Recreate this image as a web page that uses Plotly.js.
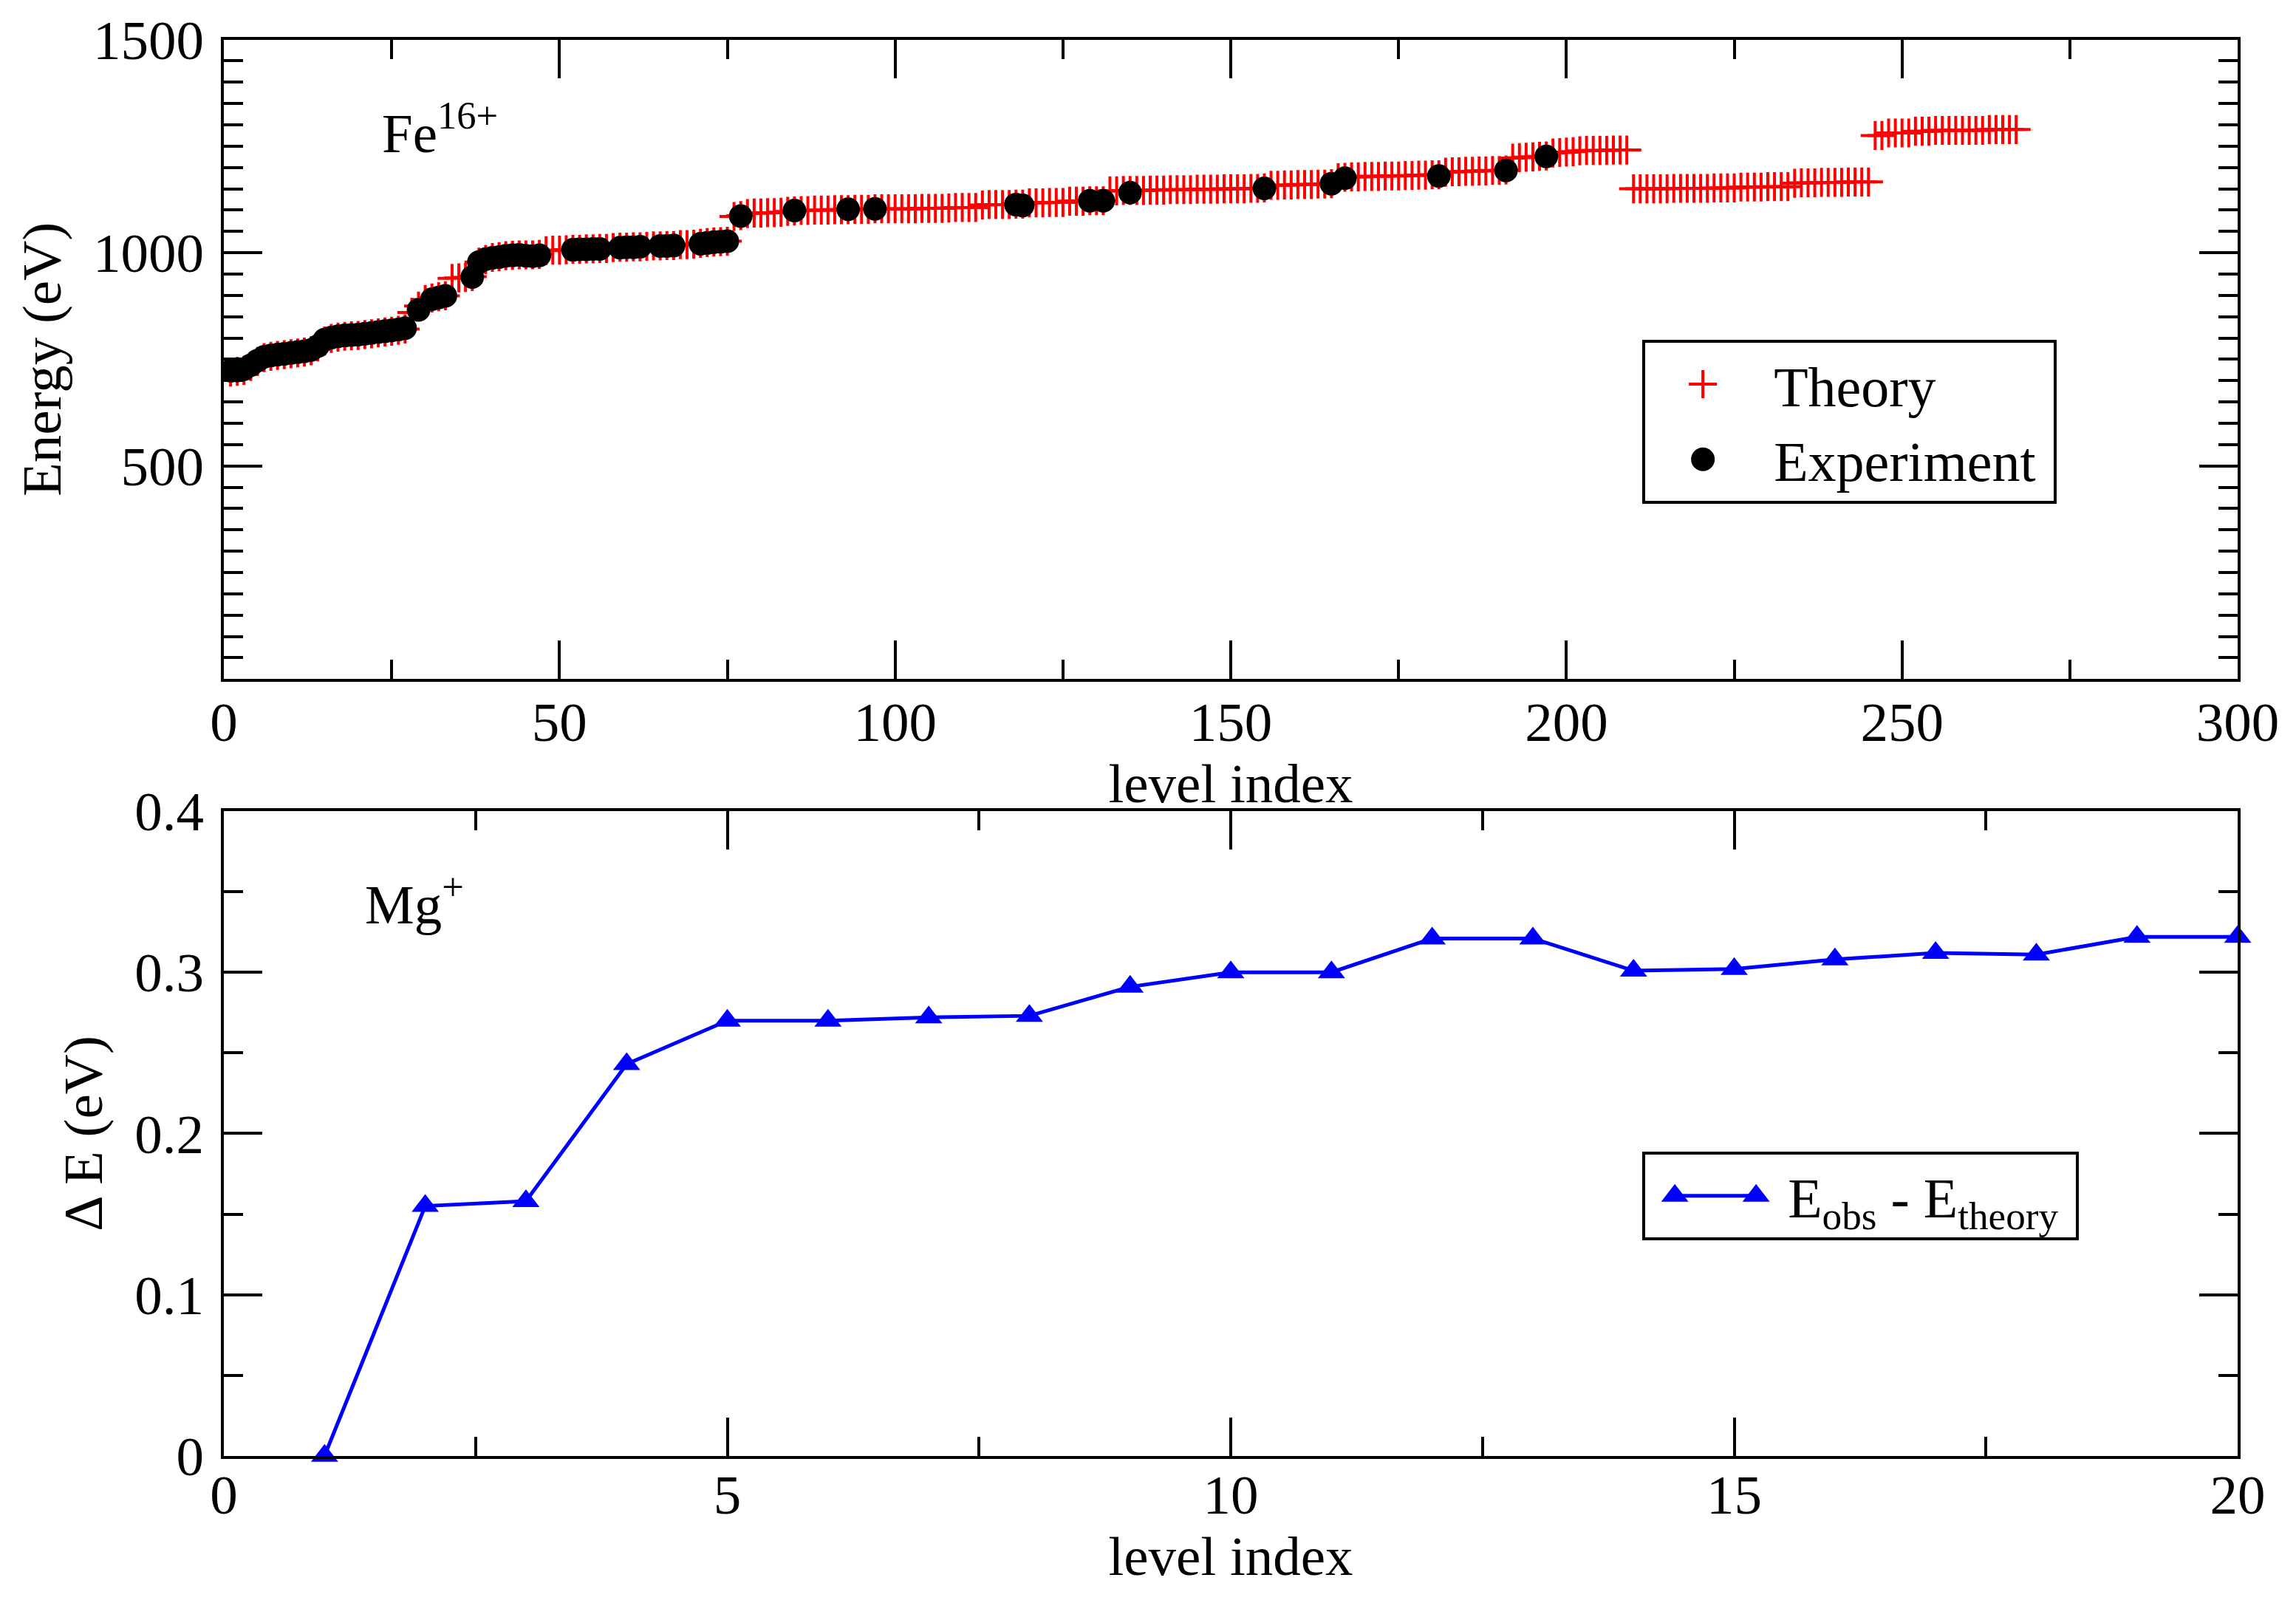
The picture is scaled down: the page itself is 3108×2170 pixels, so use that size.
<!DOCTYPE html>
<html>
<head>
<meta charset="utf-8">
<script src="https://cdn.plot.ly/plotly-3.0.1.min.js"></script>
<style>
  html, body { margin: 0; padding: 0; background: #ffffff; }
  #chart { width: 3108px; height: 2170px; }
</style>
</head>
<body>
<div id="chart"></div>
<script>
// Fe16+ level energies (eV), theory for levels 1..267
var feTheory = [
  720, 722, 724, 733, 745, 754, 757, 759, 761, 763,
  765, 767, 770, 779, 793, 799, 802, 804, 805, 806,
  808, 810, 812, 814, 816, 818, 821, 860, 875, 890,
  894, 897, 899, 940, 941, 942, 944, 978, 984, 989,
  991, 993, 994, 995, 995, 995, 996, 1005, 1006, 1006,
  1007, 1008, 1008, 1009, 1009, 1010, 1010, 1012, 1013, 1013,
  1014, 1014, 1015, 1016, 1016, 1017, 1017, 1019, 1019, 1020,
  1022, 1024, 1025, 1026, 1027, 1085, 1087, 1092, 1093, 1093,
  1094, 1094, 1095, 1097, 1098, 1099, 1099, 1100, 1100, 1100,
  1101, 1101, 1101, 1102, 1102, 1102, 1103, 1103, 1103, 1103,
  1103, 1103, 1103, 1104, 1104, 1104, 1104, 1105, 1106, 1106,
  1106, 1106, 1112, 1113, 1113, 1113, 1113, 1114, 1114, 1117,
  1117, 1117, 1118, 1118, 1118, 1121, 1121, 1121, 1122, 1122,
  1122, 1145, 1145, 1146, 1146, 1146, 1146, 1147, 1147, 1147,
  1148, 1148, 1148, 1148, 1149, 1149, 1149, 1149, 1150, 1150,
  1150, 1150, 1151, 1151, 1152, 1158, 1158, 1159, 1159, 1160,
  1160, 1160, 1161, 1161, 1162, 1176, 1177, 1178, 1178, 1179,
  1179, 1179, 1180, 1180, 1180, 1181, 1181, 1182, 1182, 1183,
  1183, 1189, 1190, 1190, 1191, 1191, 1192, 1192, 1193, 1193,
  1194, 1222, 1223, 1224, 1225, 1226, 1227, 1234, 1235, 1236,
  1237, 1239, 1240, 1240, 1240, 1240, 1241, 1241, 1241, 1150,
  1150, 1150, 1150, 1150, 1150, 1151, 1151, 1151, 1151, 1151,
  1151, 1152, 1152, 1152, 1152, 1154, 1154, 1154, 1154, 1155,
  1155, 1155, 1155, 1163, 1164, 1164, 1164, 1165, 1165, 1165,
  1165, 1166, 1166, 1166, 1166, 1275, 1275, 1281, 1281, 1281,
  1281, 1285, 1285, 1285, 1287, 1287, 1287, 1287, 1287, 1287,
  1287, 1287, 1289, 1289, 1289, 1289, 1289
];
var feTheoryLevel = feTheory.map(function (v, i) { return i + 1; });

// Fe16+ measured levels
var feExpLevel = [
  1, 2, 3, 4, 5, 6, 7, 8, 9, 10, 11, 12, 13, 14, 15, 16, 17, 18, 19, 20,
  21, 22, 23, 24, 25, 26, 27, 29, 31, 32, 33, 37, 38, 39, 40, 41, 42, 43,
  44, 45, 46, 47, 52, 53, 54, 55, 56, 59, 60, 61, 62, 65, 66, 67, 71, 72,
  73, 74, 75, 77, 85, 93, 97, 118, 119, 129, 131, 135, 155, 165, 167, 181,
  191, 197
];
var feExp = [
  723, 724, 727, 736, 747, 756, 759, 761, 763, 765, 767, 769, 772, 781, 796, 801, 804, 806, 807, 808,
  810, 812, 814, 816, 818, 820, 823, 866, 891, 895, 899, 943, 978, 985, 988, 990, 993, 994,
  995, 993, 992, 994, 1007, 1008, 1008, 1009, 1009, 1012, 1013, 1013, 1014, 1016, 1016, 1017, 1021, 1023,
  1025, 1026, 1027, 1086, 1099, 1102, 1103, 1113, 1111, 1122, 1122, 1141, 1151, 1162, 1175, 1180,
  1193, 1226
];

// Mg+ : E_obs - E_theory (eV)
var mgLevel = [1, 2, 3, 4, 5, 6, 7, 8, 9, 10, 11, 12, 13, 14, 15, 16, 17, 18, 19, 20];
var mgDelta = [0.000, 0.155, 0.158, 0.243, 0.270, 0.270, 0.272, 0.273, 0.291, 0.300,
               0.300, 0.321, 0.321, 0.301, 0.302, 0.308, 0.312, 0.311, 0.322, 0.322];

var FONT = 'Liberation Serif, Times New Roman, serif';
var FS = 75;

var data = [
  {
    x: feTheoryLevel, y: feTheory,
    type: 'scatter', mode: 'markers', name: 'Theory',
    xaxis: 'x', yaxis: 'y', legend: 'legend',
    marker: { symbol: 'cross-thin', size: 28, color: '#ff0000',
              line: { color: '#ff0000', width: 4 } }
  },
  {
    x: feExpLevel, y: feExp,
    type: 'scatter', mode: 'markers', name: 'Experiment\u00a0',
    xaxis: 'x', yaxis: 'y', legend: 'legend',
    marker: { symbol: 'circle', size: 32, color: '#000000' }
  },
  {
    x: mgLevel, y: mgDelta,
    type: 'scatter', mode: 'lines+markers',
    name: 'E<sub>obs</sub> - E<sub>theory</sub>\u00a0',
    xaxis: 'x2', yaxis: 'y2', legend: 'legend2', cliponaxis: false,
    line: { color: '#0000ff', width: 5 },
    marker: { symbol: 'triangle-up', size: 32, color: '#0000ff' }
  }
];

function axisBase() {
  return {
    showline: true, linecolor: '#000', linewidth: 4, mirror: 'ticks',
    ticks: 'inside', ticklen: 52, tickwidth: 4, tickcolor: '#000',
    showgrid: false, zeroline: false,
    tickfont: { family: FONT, size: FS, color: '#000' }
  };
}

var xTop = Object.assign(axisBase(), {
  domain: [0.0975, 0.9746], anchor: 'y', range: [0, 300],
  tick0: 0, dtick: 50, ticklabelstandoff: -10,
  minor: { ticks: 'inside', ticklen: 26, tickwidth: 4, tickcolor: '#000', dtick: 25 },
  title: { text: 'level index', font: { family: FONT, size: FS, color: '#000' }, standoff: 4 }
});
var yTop = Object.assign(axisBase(), {
  domain: [0.5764, 0.9753], anchor: 'x', range: [0, 1500],
  tickmode: 'array', tickvals: [500, 1000, 1500], ticklabelstandoff: 8,
  minor: { ticks: 'inside', ticklen: 26, tickwidth: 4, tickcolor: '#000', tickmode: 'linear', tick0: 0, dtick: 50 },
  title: { text: 'Energy (eV)', font: { family: FONT, size: FS, color: '#000' }, standoff: 20 }
});
var xBot = Object.assign(axisBase(), {
  domain: [0.0975, 0.9746], anchor: 'y2', range: [0, 20],
  tick0: 0, dtick: 5, ticklabelstandoff: -16,
  minor: { ticks: 'inside', ticklen: 26, tickwidth: 4, tickcolor: '#000', dtick: 2.5 },
  title: { text: 'level index', font: { family: FONT, size: FS, color: '#000' }, standoff: 8 }
});
var yBot = Object.assign(axisBase(), {
  domain: [0.0918, 0.4940], anchor: 'x2', range: [0, 0.4],
  tick0: 0, dtick: 0.1, ticklabelstandoff: 8,
  minor: { ticks: 'inside', ticklen: 26, tickwidth: 4, tickcolor: '#000', dtick: 0.05 },
  title: { text: '\u0394 E (eV)', font: { family: FONT, size: FS, color: '#000' }, standoff: 20 }
});

var legendBase = {
  xref: 'paper', yref: 'paper', xanchor: 'left', yanchor: 'top',
  bgcolor: '#ffffff', bordercolor: '#000', borderwidth: 4,
  font: { family: FONT, size: 76, color: '#000' },
  tracegroupgap: 0
};

var layout = {
  width: 3108, height: 2170,
  paper_bgcolor: '#ffffff', plot_bgcolor: '#ffffff',
  margin: { l: 0, r: 0, t: 0, b: 0 },
  font: { family: FONT, size: FS, color: '#000' },
  showlegend: true,
  xaxis: xTop, yaxis: yTop,
  xaxis2: xBot, yaxis2: yBot,
  legend: Object.assign({}, legendBase, { x: 0.7153, y: 0.788, itemwidth: 164 }),
  legend2: Object.assign({}, legendBase, { x: 0.7153, y: 0.2816, itemwidth: 183 }),
  annotations: [
    { xref: 'x', yref: 'y', x: 23.3, y: 1290, xanchor: 'left', yanchor: 'middle',
      text: 'Fe<sup>16+</sup>', showarrow: false,
      font: { family: FONT, size: FS, color: '#000' } },
    { xref: 'x2', yref: 'y2', x: 1.39, y: 0.345, xanchor: 'left', yanchor: 'middle',
      text: 'Mg<sup>+</sup>', showarrow: false,
      font: { family: FONT, size: FS, color: '#000' } }
  ]
};

Plotly.newPlot('chart', data, layout, { staticPlot: true }).then(function (gd) {
  // legend symbols are capped in size by plotly; enlarge them like the original
  gd.querySelectorAll('g.traces').forEach(function (g) {
    var d = g.__data__;
    if (!d || !d[0] || !d[0].trace) return;
    var idx = d[0].trace.index;
    var pts = g.querySelectorAll('path.scatterpts');
    if (idx === 0) {
      pts.forEach(function (p) {
        p.setAttribute('transform', 'translate(78,0) scale(1.7)');
        p.style.strokeWidth = '2.4px';
      });
    } else if (idx === 1) {
      pts.forEach(function (p) { p.setAttribute('transform', 'translate(78,0) scale(2)'); });
    } else if (idx === 2) {
      var line = g.querySelector('path.js-line');
      if (line) line.setAttribute('d', 'M40,0H150');
      pts.forEach(function (p) {
        p.setAttribute('transform', 'translate(40,0) scale(2)');
        var c = p.cloneNode(true);
        c.setAttribute('transform', 'translate(150,0) scale(2)');
        p.parentNode.appendChild(c);
      });
    }
  });
});
</script>
</body>
</html>
